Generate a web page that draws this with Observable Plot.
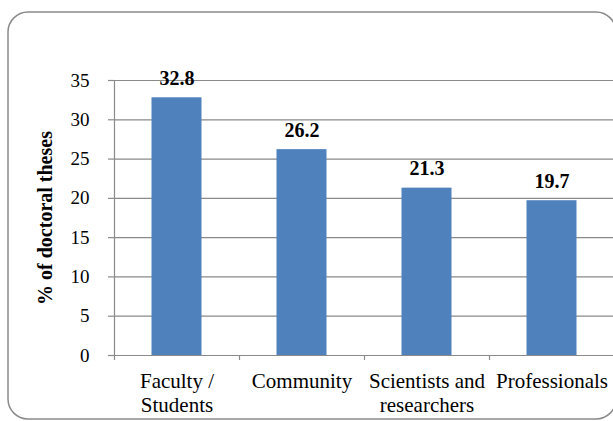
<!DOCTYPE html>
<html>
<head>
<meta charset="utf-8">
<script src="https://cdn.jsdelivr.net/npm/d3@7"></script>
<script src="https://cdn.jsdelivr.net/npm/@observablehq/plot@0.6"></script>
<style>
  html, body { margin: 0; padding: 0; background: #fff; }
  #chart { width: 613px; height: 421px; overflow: hidden; }
</style>
</head>
<body>
<div id="chart"></div>
<script>
const categories = ["Faculty / Students", "Community", "Scientists and researchers", "Professionals"];
const categoryLabels = ["Faculty /\nStudents", "Community", "Scientists and\nresearchers", "Professionals"];
const values = [32.8, 26.2, 21.3, 19.7];
const yTicks = [0, 5, 10, 15, 20, 25, 30, 35];
const yTitle = "% of doctoral theses";

const data = categories.map((c, i) => ({category: c, value: values[i]}));
const labelOf = new Map(categories.map((c, i) => [c, categoryLabels[i]]));

const gray = "#8a8a8a";
const blue = "#4F81BD";
const serif = "'Liberation Serif', 'Times New Roman', serif";

const plot = Plot.plot({
  width: 613,
  height: 421,
  marginLeft: 114,
  marginRight: -1,
  marginTop: 80,
  marginBottom: 66,
  style: {fontFamily: serif, fontSize: "20px", background: "transparent", color: "#000"},
  x: {domain: categories, padding: 0, axis: null},
  y: {domain: [0, 35], axis: null},
  marks: [
    Plot.ruleY(yTicks, {stroke: gray, strokeWidth: 1.2}),
    Plot.barY(data, {x: "category", y: "value", fill: blue, insetLeft: 37.5, insetRight: 37.5}),
    Plot.ruleX([categories[0]], {dx: -62.5, stroke: gray, strokeWidth: 1.2}),
    Plot.ruleX(categories, {x: d => d, dx: -62.5, y1: 0, y2: 0, insetTop: 5, stroke: gray, strokeWidth: 1.2}),
    Plot.axisY({ticks: yTicks, tickSize: 6, tickPadding: 19, stroke: gray, strokeWidth: 1.2, fontSize: 19, fontFamily: serif, label: null, tickFormat: d => String(d)}),
    Plot.axisX({tickSize: 0, tickPadding: 15, fontSize: 21, fontFamily: serif, label: null, tickFormat: d => labelOf.get(d), lineHeight: 1.15}),
    Plot.text(data, {x: "category", y: "value", text: d => d.value.toFixed(1), lineAnchor: "bottom", dy: -13, fontWeight: "bold", fontSize: 20, fontFamily: serif, fill: "#000"}),
    Plot.text([yTitle], {frameAnchor: "left", textAnchor: "middle", rotate: -90, dx: -69, fontWeight: "bold", fontSize: 20, fontFamily: serif, fill: "#000"})
  ]
});

document.getElementById("chart").appendChild(plot);

d3.select(plot).insert("rect", ":first-child")
  .attr("x", 8).attr("y", 12).attr("width", 608).attr("height", 407)
  .attr("rx", 20).attr("ry", 20)
  .attr("fill", "#fff").attr("stroke", gray).attr("stroke-width", 1.5);
</script>
</body>
</html>
